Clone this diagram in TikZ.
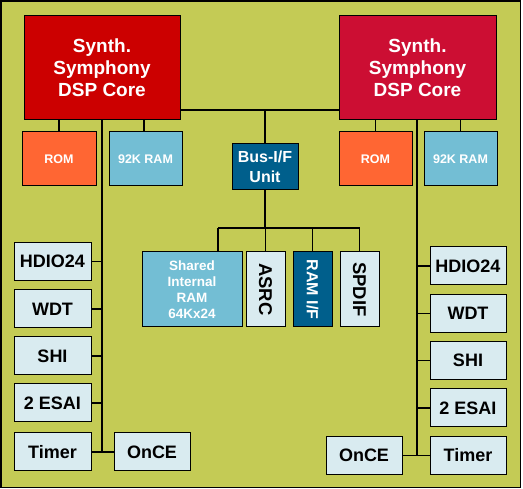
\documentclass[tikz,border=0pt]{standalone}
\usepackage{fontspec}
\setmainfont{Liberation Sans}
\definecolor{bgol}{RGB}{196,203,85}
\definecolor{lightbx}{RGB}{217,235,240}
\definecolor{romc}{RGB}{255,102,51}
\definecolor{ramc}{RGB}{115,190,212}
\definecolor{busc}{RGB}{0,95,140}
\definecolor{lcorec}{RGB}{204,0,0}
\definecolor{rcorec}{RGB}{204,14,51}
\tikzset{
  bx/.style={draw=black, line width=1pt, inner sep=0pt, align=center},
  corebox/.style={bx, minimum width=156pt, minimum height=104pt, text=white,
    font=\fontsize{19}{22}\selectfont\bfseries},
  membox/.style={bx, minimum width=73pt, minimum height=54pt, text=white,
    font=\fontsize{12.5}{14}\selectfont\bfseries},
  perbox/.style={bx, fill=lightbx, minimum width=77pt, minimum height=38pt,
    font=\fontsize{18}{20}\selectfont\bfseries},
  vbox/.style={bx, minimum width=39pt, minimum height=75pt,
    font=\fontsize{18.5}{20}\selectfont\bfseries},
  wire/.style={draw=black, line width=1.2pt}
}
\begin{document}
\begin{tikzpicture}[x=1pt,y=-1pt]
\useasboundingbox (0,0) rectangle (523,489);
\draw[fill=bgol, draw=black, line width=1.2pt] (1,1) rectangle (520.5,487.5);

% cores
\node[corebox, fill=lcorec] (lcore) at (102,68) {Synth.\\Symphony\\DSP Core};
\node[corebox, fill=rcorec, minimum width=157pt] (rcore) at (417.5,68) {Synth.\\Symphony\\DSP Core};

% memories
\node[membox, fill=romc, minimum width=74pt] (lrom) at (59,159) {ROM};
\node[membox, fill=ramc] (lram) at (145.5,159) {92K RAM};
\node[membox, fill=romc] (rrom) at (375.5,159) {ROM};
\node[membox, fill=ramc] (rram) at (460.5,159) {92K RAM};

% bus
\node[bx, fill=busc, text=white, minimum width=66pt, minimum height=46pt,
  font=\fontsize{16}{20}\selectfont\bfseries] (bus) at (265,167) {Bus-I/F\\Unit};

% shared group
\node[bx, fill=ramc, text=white, minimum width=100pt, minimum height=75pt,
  font=\fontsize{13.5}{16}\selectfont\bfseries] (shared) at (192,289.5) {Shared\\Internal\\RAM\\64Kx24};
\node[vbox, fill=lightbx] (asrc) at (265.5,289.5) {\rotatebox{-90}{ASRC}};
\node[vbox, fill=busc, text=white, font=\fontsize{16}{18}\selectfont\bfseries] (ramif) at (312.5,289.5) {\rotatebox{-90}{RAM I/F}};
\node[vbox, fill=lightbx] (spdif) at (359.5,289.5) {\rotatebox{-90}{SPDIF}};

% left peripherals
\node[perbox] (lhdio) at (52.5,261.5) {HDIO24};
\node[perbox] (lwdt) at (52.5,309) {WDT};
\node[perbox] (lshi) at (52.5,356) {SHI};
\node[perbox] (lesai) at (52.5,403) {2 ESAI};
\node[perbox] (ltimer) at (52.5,452) {Timer};
\node[perbox, minimum width=76pt] (lonce) at (152,452) {OnCE};

% right peripherals
\node[perbox, minimum width=76pt] (rhdio) at (468,266) {HDIO24};
\node[perbox, minimum width=76pt] (rwdt) at (468,313.5) {WDT};
\node[perbox, minimum width=76pt] (rshi) at (468,360.5) {SHI};
\node[perbox, minimum width=76pt] (resai) at (468,408) {2 ESAI};
\node[perbox, minimum width=76pt] (rtimer) at (468,455.5) {Timer};
\node[perbox, minimum width=76pt] (ronce) at (364,455.5) {OnCE};

% connectors
\coordinate (hb) at (265,110);
\coordinate (sb) at (265,228);
\coordinate (shdrop) at (218,228);
\coordinate (lbus) at (102,120);
\coordinate (rbus) at (417,120);

\path[wire] (lrom.north) -- (lrom.north |- lcore.south);
\path[wire] ([xshift=-1.5pt]lram.north) -- ([xshift=-1.5pt]lram.north |- lcore.south);
\path[wire] (rrom.north) -- (rrom.north |- rcore.south);
\path[wire] (rram.north) -- (rram.north |- rcore.south);

\path[wire] (lcore.east |- hb) -- (rcore.west |- hb);
\path[wire] (hb) -- (bus.north);
\path[wire] (bus.south) -- (sb);
\path[wire] (shdrop) -- (spdif.north |- sb);
\path[wire] (shdrop) -- (shdrop |- shared.north);
\path[wire] (asrc.north |- sb) -- (asrc.north);
\path[wire] (ramif.north |- sb) -- (ramif.north);
\path[wire] (spdif.north |- sb) -- (spdif.north);

\path[wire] (lbus) -- (lbus |- ltimer);
\path[wire] (lhdio.east) -- (lhdio.east -| lbus);
\path[wire] (lwdt.east) -- (lwdt.east -| lbus);
\path[wire] (lshi.east) -- (lshi.east -| lbus);
\path[wire] (lesai.east) -- (lesai.east -| lbus);
\path[wire] (ltimer.east) -- (lonce.west);

\path[wire] (rbus) -- (rbus |- rtimer);
\path[wire] (rhdio.west) -- (rhdio.west -| rbus);
\path[wire] (rwdt.west) -- (rwdt.west -| rbus);
\path[wire] (rshi.west) -- (rshi.west -| rbus);
\path[wire] (resai.west) -- (resai.west -| rbus);
\path[wire] (ronce.east) -- (rtimer.west);
\end{tikzpicture}
\end{document}
